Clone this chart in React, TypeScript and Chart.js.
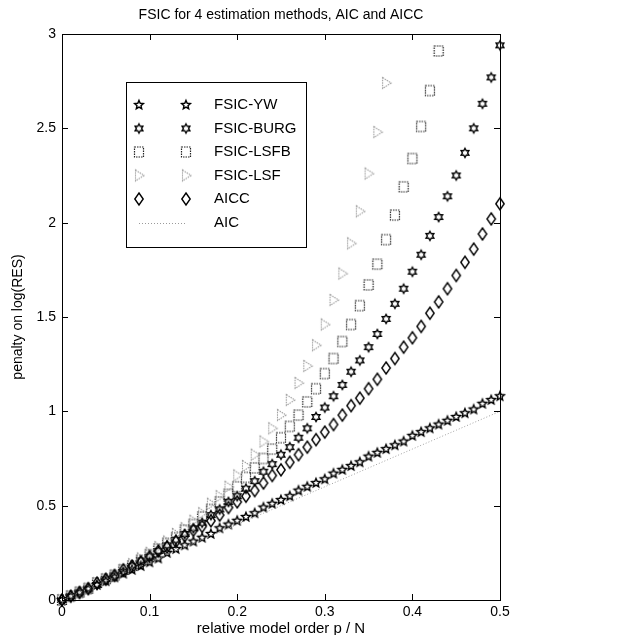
import React, { useEffect, useRef } from "react";
import { Chart, registerables } from "chart.js";

Chart.register(...registerables);

// relative model order p / N
const orders = [
  0, 0.01, 0.02, 0.03, 0.04, 0.05, 0.06, 0.07, 0.08, 0.09,
  0.1, 0.11, 0.12, 0.13, 0.14, 0.15, 0.16, 0.17, 0.18, 0.19,
  0.2, 0.21, 0.22, 0.23, 0.24, 0.25, 0.26, 0.27, 0.28, 0.29,
  0.3, 0.31, 0.32, 0.33, 0.34, 0.35, 0.36, 0.37, 0.38, 0.39,
  0.4, 0.41, 0.42, 0.43, 0.44, 0.45, 0.46, 0.47, 0.48, 0.49, 0.5,
];

const fsicYW = [
  0, 0.02, 0.04, 0.06, 0.08, 0.10, 0.12, 0.14, 0.16, 0.18,
  0.20, 0.22, 0.25, 0.27, 0.29, 0.31, 0.33, 0.35, 0.38, 0.40,
  0.42, 0.44, 0.46, 0.49, 0.51, 0.53, 0.55, 0.58, 0.60, 0.62,
  0.64, 0.67, 0.69, 0.71, 0.73, 0.76, 0.78, 0.80, 0.82, 0.84,
  0.87, 0.89, 0.91, 0.93, 0.95, 0.97, 0.99, 1.01, 1.04, 1.06, 1.08,
];

const fsicBurg = [
  0, 0.02, 0.04, 0.06, 0.08, 0.11, 0.13, 0.15, 0.18, 0.21,
  0.23, 0.26, 0.29, 0.32, 0.35, 0.38, 0.41, 0.45, 0.48, 0.52,
  0.55, 0.59, 0.63, 0.68, 0.72, 0.77, 0.81, 0.86, 0.91, 0.97,
  1.02, 1.08, 1.14, 1.21, 1.27, 1.34, 1.41, 1.49, 1.57, 1.65,
  1.74, 1.83, 1.93, 2.03, 2.14, 2.25, 2.37, 2.50, 2.63, 2.77, 2.94,
];

const fsicLSFB = [
  0, 0.02, 0.04, 0.06, 0.09, 0.11, 0.13, 0.16, 0.18, 0.21,
  0.24, 0.27, 0.30, 0.33, 0.37, 0.40, 0.44, 0.48, 0.52, 0.56,
  0.60, 0.65, 0.70, 0.75, 0.80, 0.86, 0.92, 0.98, 1.05, 1.12,
  1.20, 1.28, 1.37, 1.46, 1.56, 1.67, 1.78, 1.91, 2.04, 2.19,
  2.34, 2.51, 2.70, 2.91,
];

const fsicLSF = [
  0, 0.02, 0.04, 0.06, 0.09, 0.11, 0.13, 0.16, 0.19, 0.22,
  0.25, 0.28, 0.31, 0.35, 0.38, 0.42, 0.46, 0.51, 0.55, 0.60,
  0.66, 0.71, 0.77, 0.84, 0.91, 0.98, 1.06, 1.15, 1.24, 1.35,
  1.46, 1.59, 1.73, 1.89, 2.06, 2.26, 2.48, 2.74,
];

const aicc = [
  0, 0.02, 0.04, 0.06, 0.09, 0.11, 0.13, 0.16, 0.18, 0.20,
  0.23, 0.26, 0.28, 0.31, 0.34, 0.37, 0.39, 0.42, 0.45, 0.49,
  0.52, 0.55, 0.58, 0.62, 0.66, 0.69, 0.73, 0.77, 0.81, 0.85,
  0.89, 0.93, 0.98, 1.03, 1.07, 1.12, 1.17, 1.23, 1.28, 1.34,
  1.39, 1.45, 1.52, 1.58, 1.65, 1.72, 1.79, 1.86, 1.94, 2.02, 2.10,
];

const aic = [
  0, 0.02, 0.04, 0.06, 0.08, 0.1, 0.12, 0.14, 0.16, 0.18,
  0.2, 0.22, 0.24, 0.26, 0.28, 0.3, 0.32, 0.34, 0.36, 0.38,
  0.4, 0.42, 0.44, 0.46, 0.48, 0.5, 0.52, 0.54, 0.56, 0.58,
  0.6, 0.62, 0.64, 0.66, 0.68, 0.7, 0.72, 0.74, 0.76, 0.78,
  0.8, 0.82, 0.84, 0.86, 0.88, 0.9, 0.92, 0.94, 0.96, 0.98, 1.0,
];

const seriesLabels = ["FSIC-YW", "FSIC-BURG", "FSIC-LSFB", "FSIC-LSF", "AICC", "AIC"];
const xTicks = [0, 0.1, 0.2, 0.3, 0.4, 0.5];
const yTicks = [0, 0.5, 1, 1.5, 2, 2.5, 3];
const titleText = "FSIC for 4 estimation methods, AIC and AICC";
const xLabelText = "relative model order p / N";
const yLabelText = "penalty on log(RES)";

const FONT = "'Liberation Sans', Arial, Helvetica, sans-serif";

function makeMarker(kind: string): HTMLCanvasElement {
  const size = 18;
  const c = document.createElement("canvas");
  c.width = size;
  c.height = size;
  const g = c.getContext("2d") as CanvasRenderingContext2D;
  g.translate(size / 2, size / 2);
  g.beginPath();
  if (kind === "star5") {
    const R = 4.6, r = 2.1;
    for (let k = 0; k < 10; k++) {
      const a = -Math.PI / 2 + (k * Math.PI) / 5;
      const rr = k % 2 ? r : R;
      if (k === 0) g.moveTo(rr * Math.cos(a), rr * Math.sin(a));
      else g.lineTo(rr * Math.cos(a), rr * Math.sin(a));
    }
    g.closePath();
    g.strokeStyle = "#000";
    g.lineWidth = 1.4;
    g.stroke();
  } else if (kind === "hex") {
    const R = 4.5, r = 2.6;
    for (let k = 0; k < 12; k++) {
      const a = -Math.PI / 2 + (k * Math.PI) / 6;
      const rr = k % 2 ? r : R;
      if (k === 0) g.moveTo(rr * Math.cos(a), rr * Math.sin(a));
      else g.lineTo(rr * Math.cos(a), rr * Math.sin(a));
    }
    g.closePath();
    g.strokeStyle = "#000";
    g.lineWidth = 1.4;
    g.stroke();
  } else if (kind === "square") {
    g.setLineDash([1.5, 1]);
    g.rect(-4.5, -5, 9, 10);
    g.strokeStyle = "#222";
    g.lineWidth = 1.2;
    g.stroke();
  } else if (kind === "tri") {
    g.setLineDash([1.5, 1]);
    g.moveTo(-3.5, -5.5);
    g.lineTo(5, 0);
    g.lineTo(-3.5, 5.5);
    g.closePath();
    g.strokeStyle = "#9a9a9a";
    g.lineWidth = 1.1;
    g.stroke();
  } else if (kind === "diamond") {
    g.moveTo(0, -6);
    g.lineTo(4.2, 0);
    g.lineTo(0, 6);
    g.lineTo(-4.2, 0);
    g.closePath();
    g.strokeStyle = "#000";
    g.lineWidth = 1.4;
    g.stroke();
  }
  return c;
}

function pts(values: number[]) {
  return values.map((v, i) => ({ x: orders[i], y: v }));
}

export default function App() {
  const ref = useRef<HTMLCanvasElement | null>(null);

  useEffect(() => {
    const canvas = ref.current;
    if (!canvas) return;
    const markers = {
      star5: makeMarker("star5"),
      hex: makeMarker("hex"),
      square: makeMarker("square"),
      tri: makeMarker("tri"),
      diamond: makeMarker("diamond"),
    };
    const legendMarkers: (HTMLCanvasElement | null)[] = [
      markers.star5, markers.hex, markers.square, markers.tri, markers.diamond, null,
    ];

    const frame = {
      id: "frame",
      afterDatasetsDraw(chart: any) {
        const { ctx, chartArea: a, scales } = chart;
        ctx.save();
        ctx.strokeStyle = "#000";
        ctx.lineWidth = 1;
        ctx.strokeRect(Math.round(a.left) + 0.5, Math.round(a.top) + 0.5, Math.round(a.right - a.left), Math.round(a.bottom - a.top));
        const tl = 6;
        ctx.beginPath();
        xTicks.forEach((v) => {
          const x = Math.round(scales.x.getPixelForValue(v)) + 0.5;
          ctx.moveTo(x, a.bottom);
          ctx.lineTo(x, a.bottom - tl);
          ctx.moveTo(x, a.top);
          ctx.lineTo(x, a.top + tl);
        });
        yTicks.forEach((v) => {
          const y = Math.round(scales.y.getPixelForValue(v)) + 0.5;
          ctx.moveTo(a.left, y);
          ctx.lineTo(a.left + tl, y);
          ctx.moveTo(a.right, y);
          ctx.lineTo(a.right - tl, y);
        });
        ctx.stroke();
        ctx.restore();
      },
      afterDraw(chart: any) {
        const { ctx, chartArea: a } = chart;
        ctx.save();
        ctx.fillStyle = "#000";
        ctx.font = `14px ${FONT}`;
        ctx.textAlign = "center";
        ctx.textBaseline = "middle";
        ctx.fillText(titleText, (a.left + a.right) / 2, 15);
        const bx = 126, by = 82, bw = 180, bh = 165;
        ctx.fillStyle = "#fff";
        ctx.fillRect(bx, by, bw, bh);
        ctx.strokeStyle = "#000";
        ctx.lineWidth = 1;
        ctx.strokeRect(bx + 0.5, by + 0.5, bw, bh);
        const x1 = 139, x2 = 186, tx = 214;
        seriesLabels.forEach((lab, i) => {
          const y = 105 + i * 23.5;
          const m = legendMarkers[i];
          if (m) {
            ctx.drawImage(m, x1 - m.width / 2, y - m.height / 2);
            ctx.drawImage(m, x2 - m.width / 2, y - m.height / 2);
          } else {
            ctx.save();
            ctx.strokeStyle = "#9a9a9a";
            ctx.setLineDash([1, 2]);
            ctx.beginPath();
            ctx.moveTo(x1, Math.round(y) + 0.5);
            ctx.lineTo(x2, Math.round(y) + 0.5);
            ctx.stroke();
            ctx.restore();
          }
          ctx.fillStyle = "#000";
          ctx.font = `15px ${FONT}`;
          ctx.textAlign = "left";
          ctx.textBaseline = "middle";
          ctx.fillText(lab, tx, y);
        });
        ctx.restore();
      },
    };

    const markerSet = (label: string, data: number[], style: HTMLCanvasElement) => ({
      label,
      data: pts(data),
      showLine: false,
      pointStyle: style,
      pointRadius: 5,
      pointHoverRadius: 5,
      clip: false,
    });

    const chart = new Chart(canvas, {
      type: "scatter",
      data: {
        datasets: [
          {
            label: seriesLabels[5],
            data: pts(aic),
            showLine: true,
            borderColor: "#a0a0a0",
            borderWidth: 1,
            borderDash: [1, 2],
            pointRadius: 0,
            fill: false,
          } as any,
          markerSet(seriesLabels[4], aicc, markers.diamond),
          markerSet(seriesLabels[3], fsicLSF, markers.tri),
          markerSet(seriesLabels[2], fsicLSFB, markers.square),
          markerSet(seriesLabels[1], fsicBurg, markers.hex),
          markerSet(seriesLabels[0], fsicYW, markers.star5),
        ],
      },
      options: {
        responsive: false,
        animation: false,
        events: [],
        layout: { padding: { top: 34, right: 136, bottom: 0, left: 0 } },
        plugins: {
          legend: { display: false },
          title: { display: false },
          tooltip: { enabled: false },
        },
        scales: {
          x: {
            type: "linear",
            min: 0,
            max: 0.5,
            afterFit: (s: any) => {
              s.height = 35;
            },
            afterBuildTicks: (s: any) => {
              s.ticks = xTicks.map((v) => ({ value: v }));
            },
            grid: { display: false, drawTicks: false },
            border: { display: false },
            ticks: {
              color: "#000",
              font: { family: FONT, size: 14 },
              padding: 4,
              maxRotation: 0,
              autoSkip: false,
              callback: (v: any) => String(v),
            },
            title: {
              display: true,
              text: xLabelText,
              color: "#000",
              font: { family: FONT, size: 15 },
              padding: { top: 0, bottom: -3 },
            },
          },
          y: {
            type: "linear",
            min: 0,
            max: 3,
            afterFit: (s: any) => {
              s.width = 62;
            },
            afterBuildTicks: (s: any) => {
              s.ticks = yTicks.map((v) => ({ value: v }));
            },
            grid: { display: false, drawTicks: false },
            border: { display: false },
            ticks: {
              color: "#000",
              font: { family: FONT, size: 14 },
              padding: 6,
              autoSkip: false,
              callback: (v: any) => String(v),
            },
            title: {
              display: true,
              text: yLabelText,
              color: "#000",
              font: { family: FONT, size: 14 },
              padding: { top: 10, bottom: 0 },
            },
          },
        },
      },
      plugins: [frame],
    } as any);

    return () => chart.destroy();
  }, []);

  return (
    <div style={{ position: "absolute", left: 0, top: 0, width: 636, height: 635, background: "#fff" }}>
      <canvas ref={ref} width={636} height={635} style={{ display: "block", width: 636, height: 635 }} />
    </div>
  );
}
